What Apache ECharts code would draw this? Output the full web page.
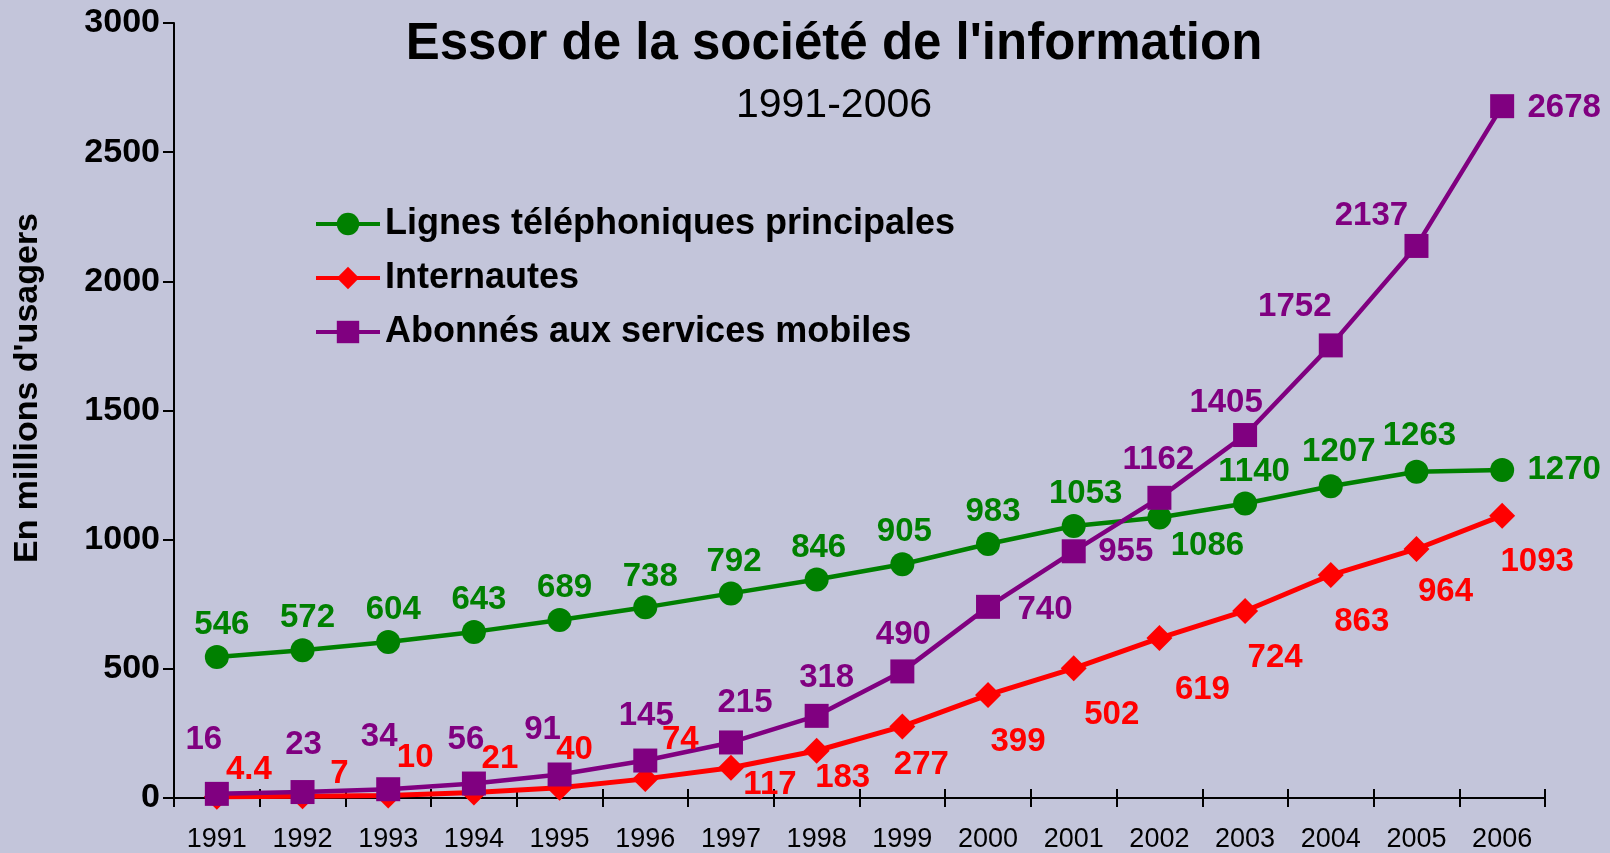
<!DOCTYPE html>
<html>
<head>
<meta charset="utf-8">
<title>Essor de la société de l'information</title>
<script src="https://cdn.jsdelivr.net/npm/echarts@6/dist/echarts.min.js"></script>
<style>
  html, body { margin: 0; padding: 0; background: #c3c5da; }
  #main { width: 1610px; height: 853px; }
</style>
</head>
<body>
<div id="main"></div>
<script>
var annees = ['1991','1992','1993','1994','1995','1996','1997','1998','1999','2000','2001','2002','2003','2004','2005','2006'];
var lignes = [546, 572, 604, 643, 689, 738, 792, 846, 905, 983, 1053, 1086, 1140, 1207, 1263, 1270];
var internautes = [4.4, 7, 10, 21, 40, 74, 117, 183, 277, 399, 502, 619, 724, 863, 964, 1093];
var mobiles = [16, 23, 34, 56, 91, 145, 215, 318, 490, 740, 955, 1162, 1405, 1752, 2137, 2678];
var yTicks = [0, 500, 1000, 1500, 2000, 2500, 3000];

// décalage des étiquettes (px) par rapport au point
var decalLignes = [[5,-32],[5,-32],[5,-32],[5,-32],[5,-32],[5,-30],[3,-31],[2,-32],[2,-32],[5,-32],[12,-32],[48,28],[9,-32],[8,-34],[3,-36],[62,0]];
var decalInternautes = [[32,-27],[37,-22],[27,-38],[26,-34],[15,-38],[35,-39],[39,17],[26,27],[19,38],[30,47],[38,47],[43,52],[30,47],[31,47],[29,43],[35,46]];
var decalMobiles = [[-13,-54],[1,-47],[-9,-52],[-8,-44],[-17,-45],[1,-45],[14,-40],[10,-38],[1,-37],[57,3],[52,1],[-1,-38],[-19,-32],[-36,-38],[-45,-30],[62,2]];

var police = '"Liberation Sans", Arial, sans-serif';

function points(valeurs, decal){
	var res = [];
	for(var i=0;i<valeurs.length;i++){
		res.push({ value: valeurs[i], label: { offset: decal[i] } });
	}
	return res;
}

function serie(nom, valeurs, decal, couleur, symbole, taille, epaisseur){
	return {
		name: nom,
		type: 'line',
		data: points(valeurs, decal),
		symbol: symbole,
		symbolSize: taille,
		itemStyle: { color: couleur, opacity: 1 },
		lineStyle: { color: couleur, width: epaisseur },
		label: {
			show: true,
			position: 'inside',
			color: couleur,
			fontFamily: police,
			fontWeight: 'bold',
			fontSize: 33
		},
		animation: false
	};
}

function legende(nom, top){
	return {
		data: [nom],
		left: 314,
		top: top,
		itemWidth: 64,
		itemHeight: 28,
		padding: 0,
		selectedMode: false,
		lineStyle: { width: 4 },
		textStyle: { color: '#000', fontFamily: police, fontWeight: 'bold', fontSize: 36, lineHeight: 40 }
	};
}

var myChart = echarts.init(document.getElementById('main'), null, { renderer: 'canvas' });
var option = {
	backgroundColor: '#c3c5da',
	animation: false,
	title: [
		{ text: "Essor de la société de l'information", left: 834, top: 19, textAlign: 'center', padding: 0,
		  textStyle: { color: '#000', fontFamily: police, fontWeight: 'bold', fontSize: 51 } },
		{ text: '1991-2006', left: 834, top: 85, textAlign: 'center', padding: 0,
		  textStyle: { color: '#000', fontFamily: police, fontWeight: 'normal', fontSize: 41 } }
	],
	legend: [
		legende('Lignes téléphoniques principales', 204),
		legende('Internautes', 258),
		legende('Abonnés aux services mobiles', 312)
	],
	graphic: [{
		type: 'text',
		x: 28, y: 388,
		rotation: Math.PI / 2,
		style: {
			text: "En millions d'usagers",
			fill: '#000',
			font: 'bold 34px ' + police,
			textAlign: 'center',
			textVerticalAlign: 'middle'
		}
	}],
	grid: { left: 174, right: 65, top: 23, bottom: 52, containLabel: false },
	xAxis: [
		{
			type: 'category',
			data: annees,
			boundaryGap: true,
			position: 'bottom',
			axisLine: { show: true, lineStyle: { color: '#000', width: 2 } },
			axisTick: { show: true, inside: false, length: 9, lineStyle: { color: '#000', width: 2 } },
			axisLabel: { color: '#000', fontFamily: police, fontSize: 27, margin: 28 },
			splitLine: { show: false }
		},
		{
			type: 'category',
			data: annees,
			boundaryGap: true,
			position: 'bottom',
			axisLine: { show: false },
			axisTick: { show: true, inside: true, length: 9, lineStyle: { color: '#000', width: 2 } },
			axisLabel: { show: false },
			splitLine: { show: false }
		}
	],
	yAxis: {
		type: 'value',
		min: yTicks[0],
		max: yTicks[yTicks.length - 1],
		interval: 500,
		axisLine: { show: true, lineStyle: { color: '#000', width: 2 } },
		axisTick: { show: true, inside: false, length: 11, lineStyle: { color: '#000', width: 2 } },
		axisLabel: {
			color: '#000', fontFamily: police, fontWeight: 'bold', fontSize: 34, margin: 14,
			formatter: function(v){ return String(v); }
		},
		splitLine: { show: false }
	},
	series: [
		serie('Lignes téléphoniques principales', lignes, decalLignes, '#008000', 'circle', 24, 4.5),
		serie('Internautes', internautes, decalInternautes, '#ff0000', 'diamond', 26, 5),
		serie('Abonnés aux services mobiles', mobiles, decalMobiles, '#800080', 'rect', 24, 4.5)
	]
};
myChart.setOption(option);
</script>
</body>
</html>
